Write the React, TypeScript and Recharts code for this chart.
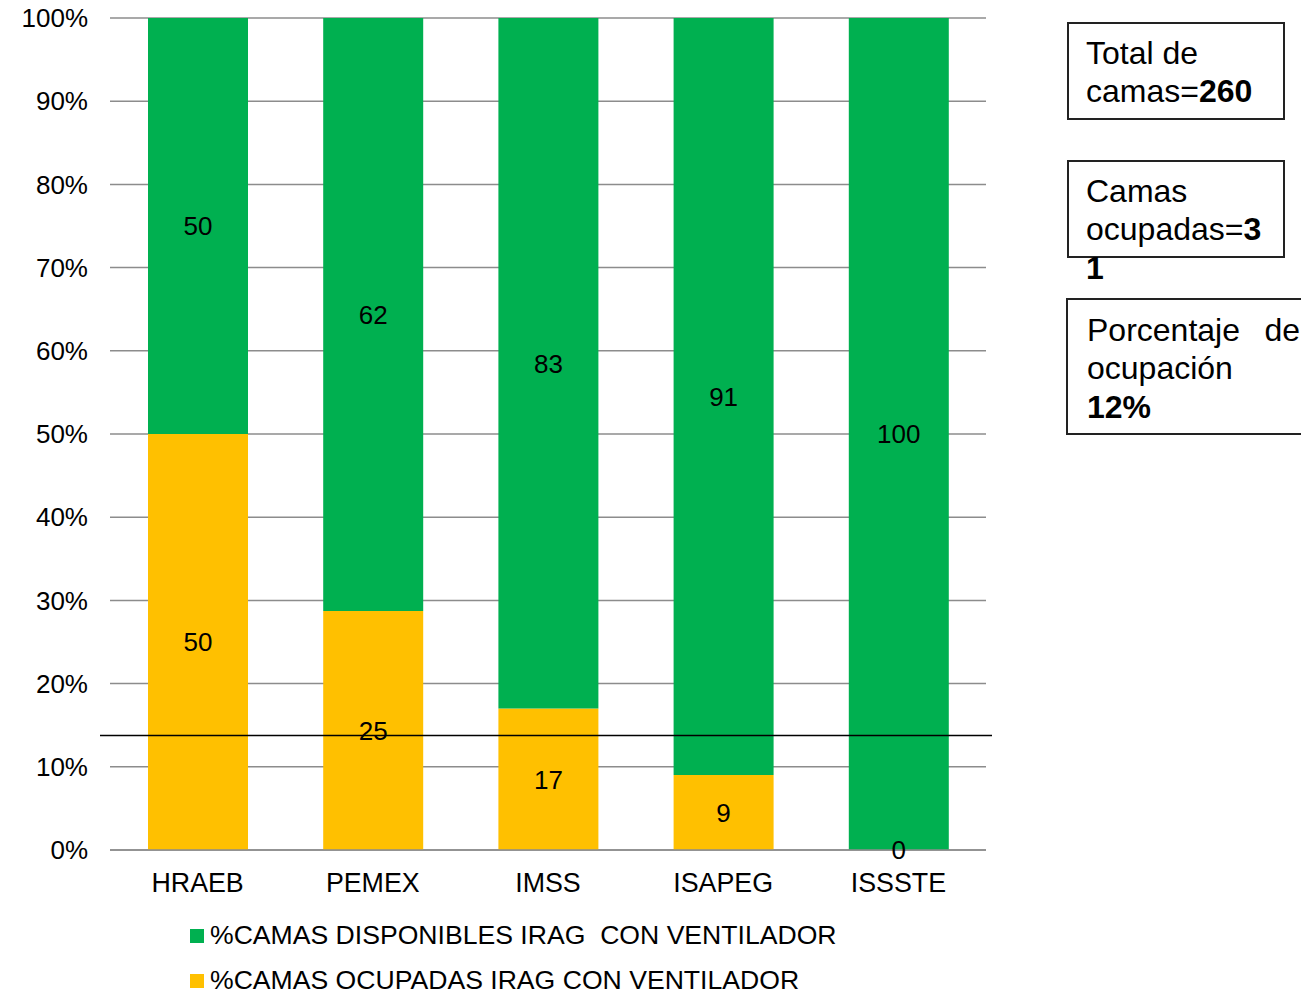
import React from 'react';
import { BarChart, Bar, XAxis, YAxis, CartesianGrid, LabelList, Legend, ReferenceLine } from 'recharts';

const categories = ['HRAEB', 'PEMEX', 'IMSS', 'ISAPEG', 'ISSSTE'];
const ocupadas = [50, 25, 17, 9, 0];
const disponibles = [50, 62, 83, 91, 100];
const yTicks = [0, 0.1, 0.2, 0.3, 0.4, 0.5, 0.6, 0.7, 0.8, 0.9, 1];
const ocupacionLine = 0.1375;

const SERIES_DISP = '%CAMAS DISPONIBLES IRAG  CON VENTILADOR';
const SERIES_OCUP = '%CAMAS OCUPADAS IRAG CON VENTILADOR';
const LEGEND_ORDER = [SERIES_DISP, SERIES_OCUP];

const GREEN = '#00B050';
const YELLOW = '#FFC000';
const GRID = '#8c8c8c';
const FONT = "Arial, 'Liberation Sans', sans-serif";

const data = categories.map((name, i) => ({
  name,
  ocupadas: ocupadas[i],
  disponibles: disponibles[i],
}));

const renderLegend = (props: any) => {
  const items = [...(props.payload || [])].sort(
    (a: any, b: any) => LEGEND_ORDER.indexOf(a.value) - LEGEND_ORDER.indexOf(b.value)
  );
  return (
    <div style={{ paddingLeft: 182, paddingTop: 13, fontFamily: FONT, fontSize: 26.6, lineHeight: '45px', color: '#000' }}>
      {items.map((entry: any) => (
        <div key={entry.value} style={{ display: 'flex', alignItems: 'center', whiteSpace: 'pre' }}>
          <span style={{ display: 'inline-block', width: 14, height: 14, background: entry.color, marginRight: 6 }} />
          <span>{entry.value}</span>
        </div>
      ))}
    </div>
  );
};

// zero-height segments get no label from recharts, so draw those at the base of the stack
const ZeroLabel = (props: any) => {
  const { x, y, width, height, value } = props;
  if (value !== 0) return null;
  return (
    <text x={x + width / 2} y={y + height} dy="0.355em" textAnchor="middle" fill="#000" fontSize={26} fontFamily={FONT}>
      {value}
    </text>
  );
};

const YTick = (props: any) => {
  const { x, y, payload } = props;
  return (
    <text x={x} y={y} dy="0.355em" textAnchor="end" fill="#000" fontSize={26} fontFamily={FONT}>
      {`${Math.round(payload.value * 100)}%`}
    </text>
  );
};

const boxStyle: React.CSSProperties = {
  position: 'absolute',
  boxSizing: 'border-box',
  border: '2px solid #222',
  fontFamily: FONT,
  fontSize: 32,
  lineHeight: '38.4px',
  color: '#000',
  background: '#fff',
  overflow: 'visible',
};

const App: React.FC = () => {
  return (
    <div style={{ position: 'relative', width: 1301, height: 986 }}>
      <style>{'html, body { overflow: hidden; }'}</style>
      <div style={{ position: 'absolute', left: 0, top: -8 }}>
        <BarChart
          width={1000}
          height={994}
          data={data}
          stackOffset="expand"
          barSize={100}
          margin={{ top: 18, right: 22, left: 0, bottom: 0 }}
        >
          <CartesianGrid vertical={false} stroke={GRID} strokeWidth={1.5} />
          <XAxis
            dataKey="name"
            height={50}
            axisLine={{ stroke: GRID, strokeWidth: 1.5 }}
            tickLine={false}
            tickSize={6}
            tickMargin={17}
            tick={{ fill: '#000', fontSize: 26.8, fontFamily: FONT }}
          />
          <YAxis
            width={102}
            domain={[0, 1]}
            ticks={yTicks}
            axisLine={false}
            tickLine={false}
            tickSize={6}
            tickMargin={16}
            tick={<YTick />}
          />
          <Bar dataKey="ocupadas" name={SERIES_OCUP} stackId="a" fill={YELLOW} isAnimationActive={false}>
            <LabelList dataKey="ocupadas" position="center" fill="#000" fontSize={26} fontFamily={FONT} />
          </Bar>
          <Bar dataKey="disponibles" name={SERIES_DISP} stackId="a" fill={GREEN} isAnimationActive={false}>
            <LabelList dataKey="disponibles" position="center" fill="#000" fontSize={26} fontFamily={FONT} />
            <LabelList dataKey="ocupadas" content={<ZeroLabel />} />
          </Bar>
          <ReferenceLine
            y={ocupacionLine}
            shape={(p: any) => (
              <line x1={p.x1 - 10} y1={p.y1} x2={p.x2 + 6} y2={p.y2} stroke="#000" strokeWidth={1.5} />
            )}
          />
          <Legend verticalAlign="bottom" align="left" height={94} content={renderLegend} />
        </BarChart>
      </div>

      <div style={{ ...boxStyle, left: 1059, top: 14, width: 218, height: 98, padding: '10px 17px 0 17px' }}>
        Total de camas=<b>260</b>
      </div>
      <div style={{ ...boxStyle, left: 1059, top: 152, width: 218, height: 98, padding: '10px 17px 0 17px' }}>
        Camas ocupadas=<b>3</b><wbr /><b>1</b>
      </div>
      <div
        style={{
          ...boxStyle,
          left: 1058,
          top: 290,
          width: 256,
          height: 137,
          padding: '11px 20px 0 19px',
          textAlign: 'justify',
        }}
      >
        Porcentaje de ocupación <b>12%</b>
      </div>
    </div>
  );
};

export default App;
